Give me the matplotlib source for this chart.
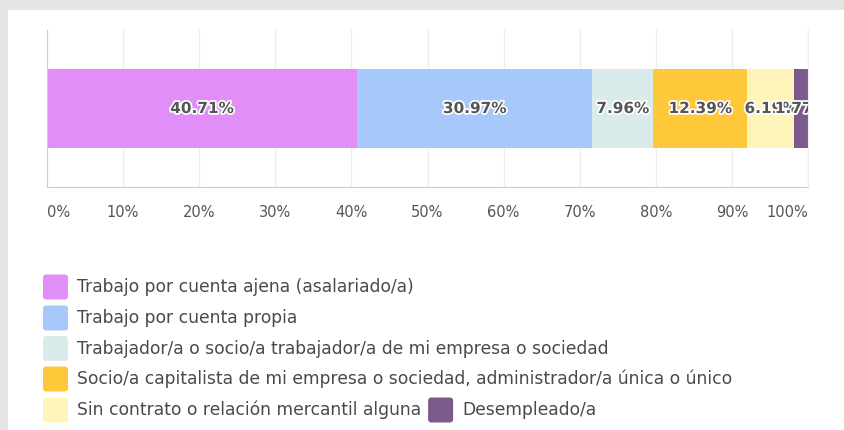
import matplotlib
matplotlib.use("Agg")
import matplotlib.pyplot as plt
import matplotlib.patheffects as pe
from matplotlib.patches import Rectangle, FancyBboxPatch

categories = [
    "Trabajo por cuenta ajena (asalariado/a)",
    "Trabajo por cuenta propia",
    "Trabajador/a o socio/a trabajador/a de mi empresa o sociedad",
    "Socio/a capitalista de mi empresa o sociedad, administrador/a única o único",
    "Sin contrato o relación mercantil alguna",
    "Desempleado/a",
]
values = [40.71, 30.97, 7.96, 12.39, 6.19, 1.77]
colors = ["#E28EF9", "#A6C8FA", "#D9ECEB", "#FFC83A", "#FFF5BA", "#7D5A8E"]
ticks = [0, 10, 20, 30, 40, 50, 60, 70, 80, 90, 100]
tick_labels = ["%d%%" % t for t in ticks]

plt.rcParams["font.family"] = ["DejaVu Sans"]
W, H = 845, 430
fig = plt.figure(figsize=(W / 100, H / 100), dpi=100)

# overlay in pixel coords (background border + legend)
bg = fig.add_axes([0, 0, 1, 1], zorder=-1)
bg.set_xlim(0, W)
bg.set_ylim(H, 0)
bg.axis("off")
bg.add_patch(Rectangle((0, 0), W, 10, color="#E5E5E5", lw=0))
bg.add_patch(Rectangle((0, 0), 8, H, color="#E5E5E5", lw=0))

# main bar chart
x0, x1, y0, y1 = 47, 808, 30, 187
ax = fig.add_axes([x0 / W, 1 - y1 / H, (x1 - x0) / W, (y1 - y0) / H])
left = 0
for v, c in zip(values, colors):
    ax.barh(0, v, left=left, height=1.0, color=c, edgecolor="none", zorder=2)
    ax.text(left + v / 2, 0, "%.2f%%" % v, ha="center", va="center", fontsize=11,
            fontweight="bold", color="#555555", zorder=3, clip_on=True,
            path_effects=[pe.withStroke(linewidth=2.5, foreground="white")])
    left += v
ax.set_xlim(0, 100)
ax.set_ylim(-1, 1)
ax.set_yticks([])
ax.set_xticks(ticks)
ax.set_xticklabels(tick_labels, fontsize=10.5, color="#555555")
ax.tick_params(axis="x", length=0, pad=13)
labs = ax.get_xticklabels()
labs[0].set_ha("left")
labs[-1].set_ha("right")
ax.grid(axis="x", color="#EDEDED", lw=1, zorder=0)
ax.spines["top"].set_visible(False)
for s in ["left", "bottom"]:
    ax.spines[s].set_color("#CCCCCC")
ax.spines["right"].set_color("#EEEEEE")

# legend drawn by hand (flowing last row)
rows = [287, 318, 348.5, 379, 410]
lx = 43
fig.canvas.draw()
r = fig.canvas.get_renderer()
prev_end = 0
for i, (cat, c) in enumerate(zip(categories, colors)):
    if i < 5:
        mx, my = lx, rows[i]
    else:
        mx, my = prev_end + 7, rows[4]
    bg.add_patch(FancyBboxPatch((mx + 2, my - 10.5), 21, 21,
                                boxstyle="round,pad=2,rounding_size=3",
                                facecolor=c, edgecolor="none"))
    t = bg.text(mx + 34, my, cat, ha="left", va="center", fontsize=12.3,
                color="#4A4A4A")
    bb = t.get_window_extent(renderer=r)
    prev_end = bb.x1

fig.savefig("out.png", dpi=100)
